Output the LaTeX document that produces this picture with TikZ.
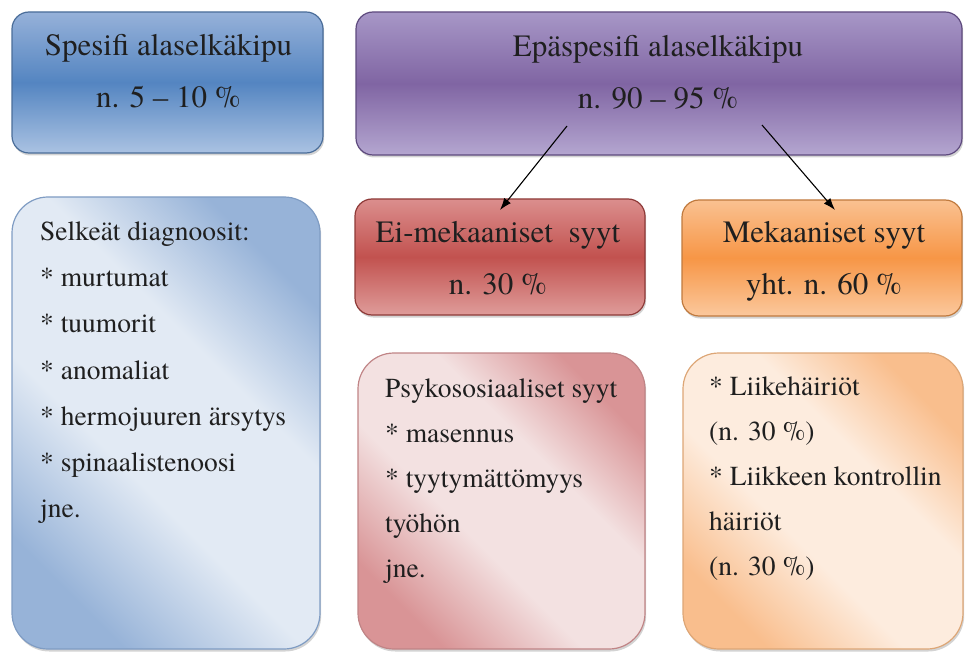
\documentclass[tikz,border=0pt]{standalone}
\usepackage{fontspec}
\IfFontExistsTF{texgyretermes-regular.otf}{%
  \setmainfont{texgyretermes}[Extension=.otf, UprightFont=*-regular, BoldFont=*-bold, ItalicFont=*-italic, BoldItalicFont=*-bolditalic]}{}
\usetikzlibrary{shadows,arrows.meta}
\definecolor{bluT}{HTML}{96B1D9}
\definecolor{bluM}{HTML}{5485C1}
\definecolor{bluB}{HTML}{AAC2E2}
\definecolor{bluD}{HTML}{4A6D99}
\definecolor{purT}{HTML}{A797C7}
\definecolor{purM}{HTML}{8065A3}
\definecolor{purB}{HTML}{B4A6D0}
\definecolor{purD}{HTML}{5E4A7E}
\definecolor{redT}{HTML}{DB8E8D}
\definecolor{redM}{HTML}{C2524F}
\definecolor{redB}{HTML}{DF9C9A}
\definecolor{redD}{HTML}{8E3A38}
\definecolor{orT}{HTML}{FAC191}
\definecolor{orM}{HTML}{F79646}
\definecolor{orB}{HTML}{FBC89D}
\definecolor{orD}{HTML}{C07A3E}
\definecolor{sbD}{HTML}{97B3D8}
\definecolor{sbL}{HTML}{E2EAF4}
\definecolor{sbE}{HTML}{7F9CC3}
\definecolor{spD}{HTML}{D99496}
\definecolor{spL}{HTML}{F3E1E1}
\definecolor{spE}{HTML}{C08486}
\definecolor{soD}{HTML}{F9BE8D}
\definecolor{soL}{HTML}{FDECDE}
\definecolor{soE}{HTML}{DDA676}
\pgfdeclareverticalshading{shBlue}{100bp}{color(0bp)=(sbD); color(25bp)=(sbD); color(42bp)=(sbL); color(60bp)=(sbL); color(75bp)=(sbD); color(100bp)=(sbD)}
\pgfdeclareverticalshading{shPink}{100bp}{color(0bp)=(spD); color(25bp)=(spD); color(42bp)=(spL); color(60bp)=(spL); color(75bp)=(spD); color(100bp)=(spD)}
\pgfdeclareverticalshading{shOrange}{100bp}{color(0bp)=(soD); color(25bp)=(soD); color(42bp)=(soL); color(60bp)=(soL); color(75bp)=(soD); color(100bp)=(soD)}
\begin{document}
\begin{tikzpicture}[x=1pt,y=-1pt,
  box/.style={draw, rectangle, line width=1.2pt, inner sep=0pt,
    drop shadow={shadow xshift=1.2pt,shadow yshift=-2.5pt,opacity=0.35}},
  titlebox/.style={box, rounded corners=17pt},
  bodybox/.style={box, rounded corners=36pt},
  glossy/.style n args={4}{top color=#1, bottom color=#3, middle color=#2, draw=#4},
  diag/.style n args={2}{shading=#1, shading angle=-45, draw=#2},
  ttext/.style={font=\fontsize{31}{52.5}\selectfont, align=center, anchor=north, inner sep=0pt, text=black!88},
  btext/.style={font=\fontsize{27.5}{46.2}\selectfont, align=left, anchor=north west, inner sep=0pt, text=black!88},
  arr/.style={-{Latex[length=12pt,width=8.5pt]}, line width=1.1pt}
]
\useasboundingbox (0,0) rectangle (966,652);
% boxes
\node[titlebox, glossy={bluT}{bluM}{bluB}{bluD}, minimum width=311pt, minimum height=141pt] (spes) at (167.5,82.5) {};
\node[titlebox, glossy={purT}{purM}{purB}{purD}, minimum width=606pt, minimum height=143pt] (epa) at (659,83.5) {};
\node[bodybox, diag={shBlue}{sbE}, minimum width=308pt, minimum height=452pt] (selk) at (166,423) {};
\node[titlebox, glossy={redT}{redM}{redB}{redD}, minimum width=290pt, minimum height=116pt] (eimek) at (500,257) {};
\node[titlebox, glossy={orT}{orM}{orB}{orD}, minimum width=280pt, minimum height=116pt] (mek) at (822,258) {};
\node[bodybox, diag={shPink}{spE}, minimum width=287pt, minimum height=296pt] (psyk) at (501.5,501) {};
\node[bodybox, diag={shOrange}{soE}, minimum width=280pt, minimum height=296pt] (liike) at (823,501) {};
% title texts
\node[ttext] (spesT) at (168.5,34) {Spesifi alaselkäkipu\\n. 5 – 10 \%};
\node[ttext] (epaT) at (658,35) {Epäspesifi alaselkäkipu\\n. 90 – 95 \%};
\node[ttext] (eimekT) at (498,221) {Ei-mekaaniset\ \ syyt\\n. 30 \%};
\node[ttext] (mekT) at (824,221) {Mekaaniset syyt\\yht. n. 60 \%};
% body texts
\node[btext] (selkT) at (40,221.5) {Selkeät diagnoosit:\\* murtumat\\* tuumorit\\* anomaliat\\* hermojuuren ärsytys\\* spinaalistenoosi\\jne.};
\node[btext, font=\fontsize{27.5}{45}\selectfont] (psykT) at (385,378.5) {Psykososiaaliset syyt\\* masennus\\* tyytymättömyys\\työhön\\jne.};
\node[btext, font=\fontsize{27.5}{45}\selectfont] (liikeT) at (709,376.5) {* Liikehäiriöt\\(n. 30 \%)\\* Liikkeen kontrollin\\häiriöt\\(n. 30 \%)};
% arrows
\coordinate (a1s) at (567,126);
\coordinate (a1e) at (500,210);
\coordinate (a2s) at (762,125);
\coordinate (a2e) at (835,210);
\draw[arr] (a1s) -- (a1e);
\draw[arr] (a2s) -- (a2e);
\end{tikzpicture}
\end{document}
